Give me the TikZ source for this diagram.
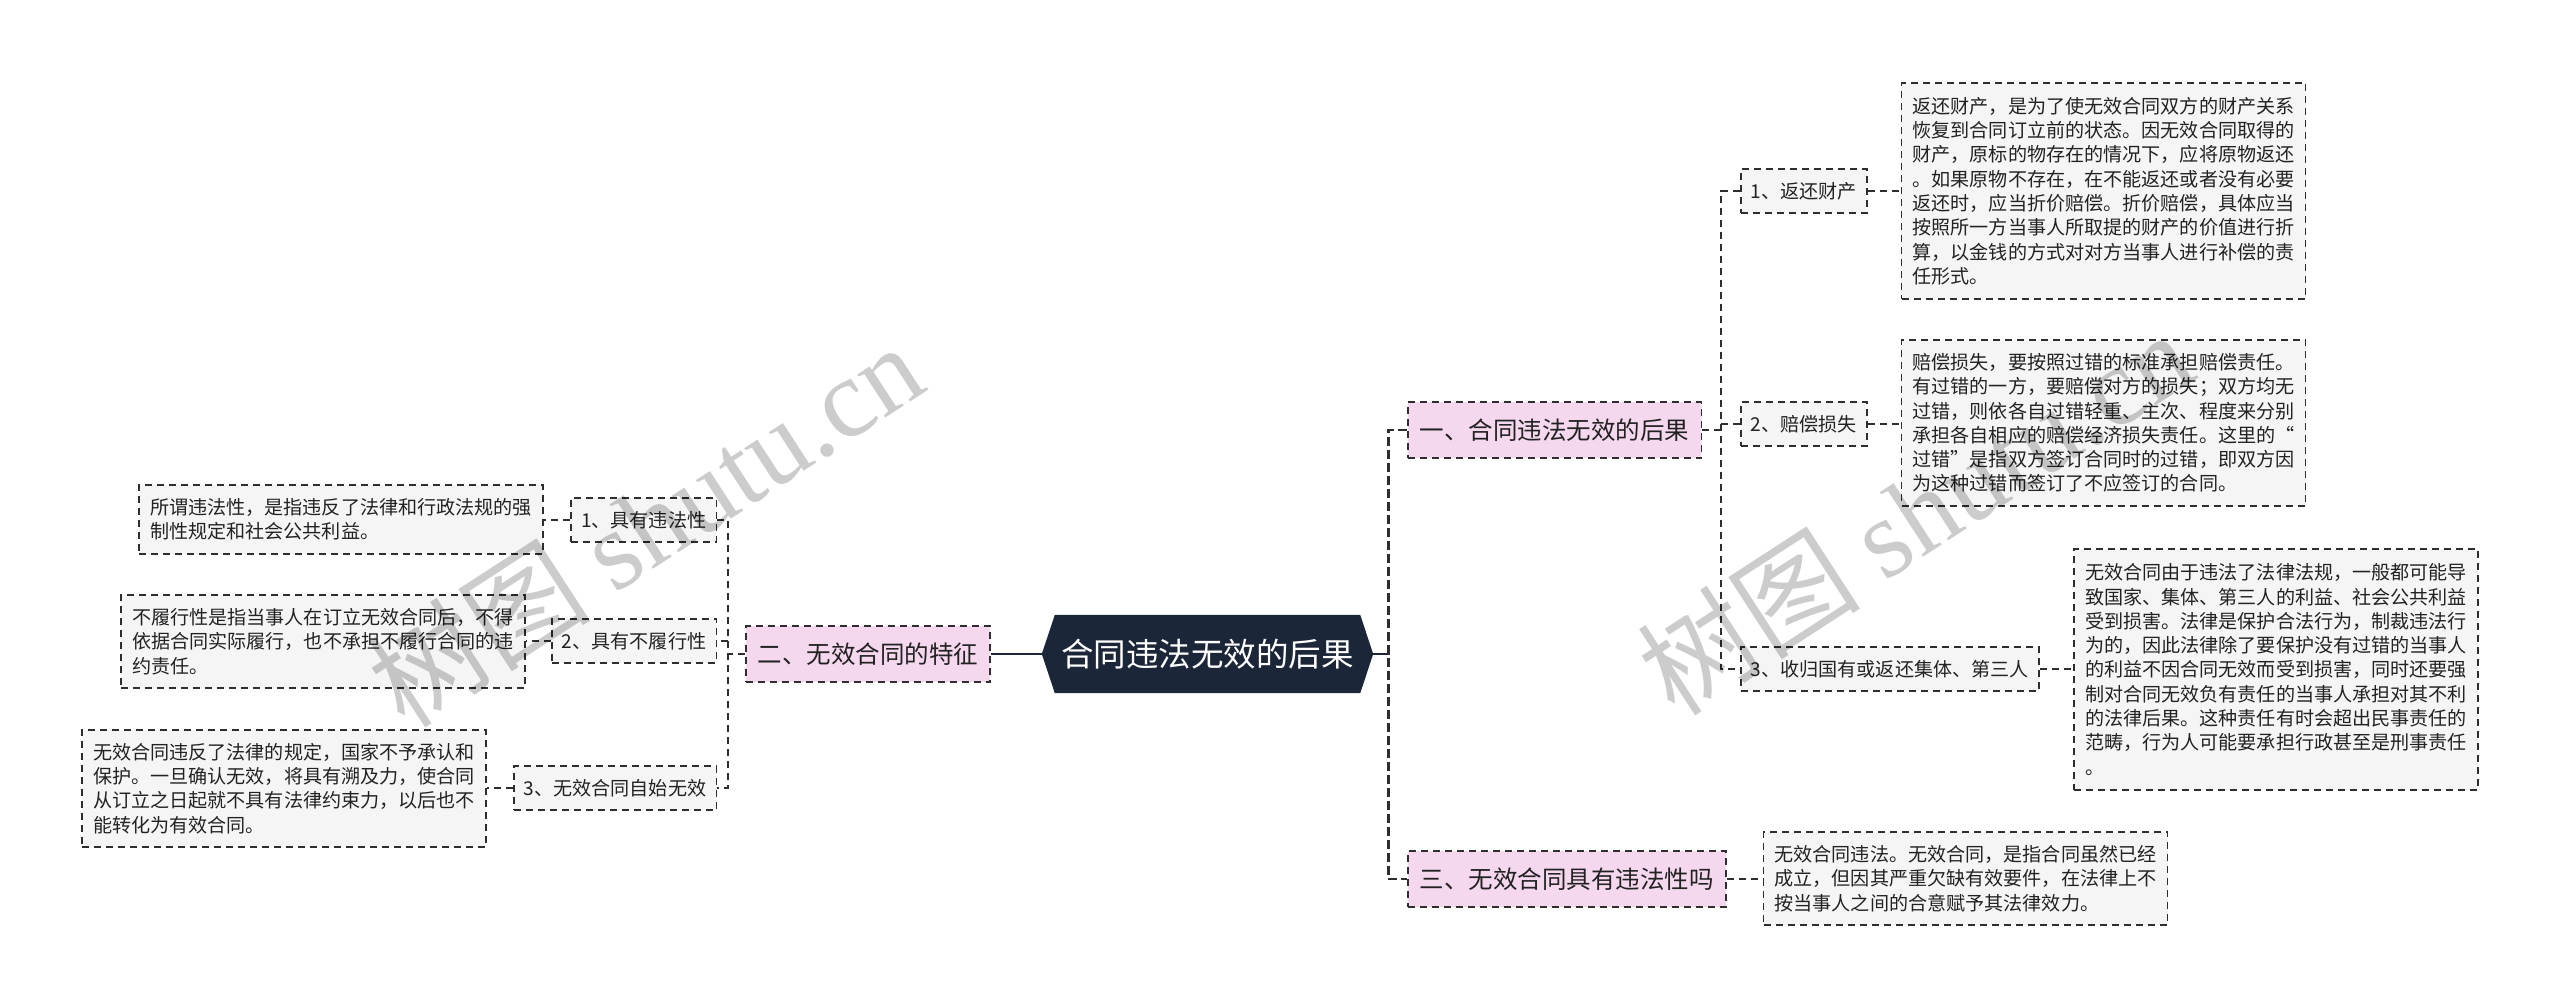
\documentclass[tikz,border=0pt]{standalone}
\usepackage{fontspec}
\setmainfont{Noto Sans CJK SC}
\newfontfamily\wmserif{Liberation Serif}
\usetikzlibrary{calc}
\definecolor{rootc}{HTML}{1B2638}
\definecolor{pinkc}{HTML}{F5D8EE}
\definecolor{boxc}{HTML}{F5F5F5}
\definecolor{linec}{HTML}{2E2E2E}
\definecolor{txtc}{HTML}{222222}
\pgfdeclarelayer{bg}
\pgfdeclarelayer{fg}
\pgfsetlayers{bg,main,fg}
\begin{document}
\begin{tikzpicture}[x=1pt,y=-1pt,
  boxdash/.style={dash pattern=on 7pt off 5pt},
  lvlone/.style={draw=linec, line width=1.6pt, boxdash, fill=pinkc, text=txtc,
    font=\fontsize{24.5}{29}\selectfont, inner xsep=12pt, inner ysep=0pt, minimum height=56pt},
  lvltwo/.style={draw=linec, line width=1.5pt, boxdash, fill=boxc, text=txtc,
    font=\fontsize{19.1}{24}\selectfont, inner xsep=10pt, inner ysep=0pt, minimum height=44pt},
  leaf/.style={draw=linec, line width=1.5pt, boxdash, fill=boxc, text=txtc,
    font=\fontsize{19.1}{24.3}\selectfont, align=left, inner xsep=11pt, inner ysep=0pt,
    minimum width=404pt},
  rootline/.style={draw=rootc, line width=2.5pt},
  connA/.style={draw=linec, line width=2.6pt, dash pattern=on 9pt off 4pt},
  connB/.style={draw=linec, line width=1.5pt, boxdash},
  wm/.style={text=black, opacity=0.2, rotate=33, font=\fontsize{112}{120}\selectfont, inner sep=0pt}
]
\useasboundingbox (0,0) rectangle (2560,1007);
\begin{pgfonlayer}{bg}
\fill[white] (0,0) rectangle (2560,1007);
\end{pgfonlayer}

% root
\node (root) [minimum width=331pt, minimum height=78pt, inner sep=0pt, text=white,
  font=\fontsize{32.5}{36}\selectfont] at (1207.5,654) {合同违法无效的后果};
\begin{pgfonlayer}{bg}
\fill[rootc] (root.west) -- ([xshift=13pt]root.north west) -- ([xshift=-13pt]root.north east)
  -- (root.east) -- ([xshift=-13pt]root.south east) -- ([xshift=13pt]root.south west) -- cycle;
\end{pgfonlayer}

% level one
\node[lvlone, anchor=west] (h1) at (1407,430) {一、合同违法无效的后果};
\node[lvlone, anchor=west] (h3) at (1407,879) {三、无效合同具有违法性吗};
\node[lvlone, anchor=east] (h2) at (991,654) {二、无效合同的特征};

% level two
\node[lvltwo, anchor=west] (n1) at (1740,191) {1、返还财产};
\node[lvltwo, anchor=west] (n2) at (1740,424) {2、赔偿损失};
\node[lvltwo, anchor=west] (n3) at (1740,669) {3、收归国有或返还集体、第三人};
\node[lvltwo, anchor=east] (m1) at (717,520) {1、具有违法性};
\node[lvltwo, anchor=east] (m2) at (717,641) {2、具有不履行性};
\node[lvltwo, anchor=east] (m3) at (717,788) {3、无效合同自始无效};

% leaves
\node[leaf, minimum height=216pt] (L1) at (2103.5,191) {返还财产，是为了使无效合同双方的财产关系\\恢复到合同订立前的状态。因无效合同取得的\\财产，原标的物存在的情况下，应将原物返还\\。如果原物不存在，在不能返还或者没有必要\\返还时，应当折价赔偿。折价赔偿，具体应当\\按照所一方当事人所取提的财产的价值进行折\\算，以金钱的方式对对方当事人进行补偿的责\\任形式。};
\node[leaf, minimum height=166pt] (L2) at (2103.5,423) {赔偿损失，要按照过错的标准承担赔偿责任。\\有过错的一方，要赔偿对方的损失；双方均无\\过错，则依各自过错轻重、主次、程度来分别\\承担各自相应的赔偿经济损失责任。这里的“\\过错”是指双方签订合同时的过错，即双方因\\为这种过错而签订了不应签订的合同。};
\node[leaf, minimum height=241pt] (L3) at (2276,669.5) {无效合同由于违法了法律法规，一般都可能导\\致国家、集体、第三人的利益、社会公共利益\\受到损害。法律是保护合法行为，制裁违法行\\为的，因此法律除了要保护没有过错的当事人\\的利益不因合同无效而受到损害，同时还要强\\制对合同无效负有责任的当事人承担对其不利\\的法律后果。这种责任有时会超出民事责任的\\范畴，行为人可能要承担行政甚至是刑事责任\\。};
\node[leaf, minimum height=93pt] (L4) at (1965.5,878.5) {无效合同违法。无效合同，是指合同虽然已经\\成立，但因其严重欠缺有效要件，在法律上不\\按当事人之间的合意赋予其法律效力。};
\node[leaf, minimum height=69pt] (P1) at (341,519.5) {所谓违法性，是指违反了法律和行政法规的强\\制性规定和社会公共利益。};
\node[leaf, minimum height=93pt] (P2) at (323,641.5) {不履行性是指当事人在订立无效合同后，不得\\依据合同实际履行，也不承担不履行合同的违\\约责任。};
\node[leaf, minimum height=117pt] (P3) at (284,788.5) {无效合同违反了法律的规定，国家不予承认和\\保护。一旦确认无效，将具有溯及力，使合同\\从订立之日起就不具有法律约束力，以后也不\\能转化为有效合同。};

% connectors from root
\coordinate (rj) at ($(root.east)+(15,0)$);
\draw[rootline] (root.east) -- (rj);
\draw[connA] (h1.west) -| (rj) |- (h3.west);
\draw[rootline] (root.west) -- (h2.east);

% right level-two connectors
\coordinate (j1) at ($(h1.east)+(19,0)$);
\draw[connB] (h1.east) -- (j1);
\draw[connB] (n1.west) -| (j1) |- (n3.west);
\draw[connB] (j1 |- n2.west) -- (n2.west);

% left level-two connectors
\coordinate (j2) at ($(h2.west)+(-17,0)$);
\draw[connB] (h2.west) -- (j2);
\draw[connB] (m1.east) -| (j2) |- (m3.east);
\draw[connB] (j2 |- m2.east) -- (m2.east);

% leaf connectors
\draw[connB] (n1.east) -- (n1.east -| L1.west);
\draw[connB] (n2.east) -- (n2.east -| L2.west);
\draw[connB] (n3.east) -- (n3.east -| L3.west);
\draw[connB] (h3.east) -- (h3.east -| L4.west);
\draw[connB] (m1.west) -- (m1.west -| P1.east);
\draw[connB] (m2.west) -- (m2.west -| P2.east);
\draw[connB] (m3.west) -- (m3.west -| P3.east);

% watermarks
\begin{pgfonlayer}{fg}
\node[wm] (wm1) at (645,524) {树图 {\wmserif shutu.cn}};
\node[wm] (wm2) at (1915,512) {树图 {\wmserif shutu.cn}};
\end{pgfonlayer}
\end{tikzpicture}
\end{document}
